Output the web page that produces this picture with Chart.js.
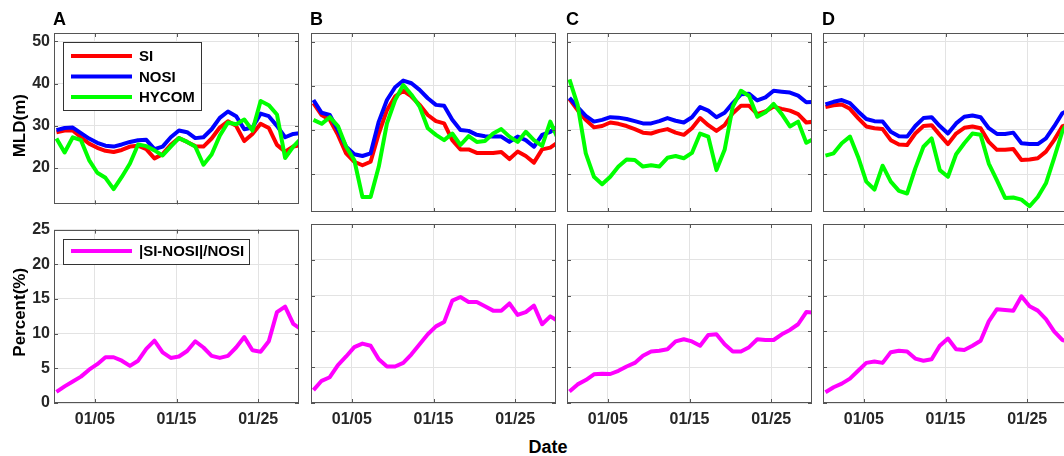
<!DOCTYPE html>
<html>
<head>
<meta charset="utf-8">
<script src="https://cdn.jsdelivr.net/npm/chart.js@4.4.1/dist/chart.umd.min.js"></script>
<style>
  html, body { margin: 0; padding: 0; background: #fff; }
  #fig { position: relative; width: 1064px; height: 456px; overflow: hidden; }
  #fig canvas { position: absolute; }
  #xlabel { position: absolute; left: 448px; width: 200px; top: 437px; line-height: 18px;
    text-align: center; font: bold 18px "Liberation Sans", Arial, sans-serif; color: #000; }
</style>
</head>
<body>
<div id="fig">
  <div id="xlabel">Date</div>
</div>
<script>
// days since 01/00
var days = [0.3,1.3,2.3,3.3,4.3,5.3,6.3,7.3,8.3,9.3,10.3,11.3,12.3,13.3,14.3,15.3,
            16.3,17.3,18.3,19.3,20.3,21.3,22.3,23.3,24.3,25.3,26.3,27.3,28.3,29.3,30.3];
var xTicks = [5, 15, 25];
var xTickLabels = ['01/05', '01/15', '01/25'];
var mldTicks = [20, 30, 40, 50];
var pctTicks = [0, 5, 10, 15, 20, 25];
var letters = ['A', 'B', 'C', 'D'];

var siA    = [28.5,28.9,28.9,27.3,25.8,24.8,24.1,23.8,24.3,25.1,25.3,24.5,22.3,23.3,25.5,27.1,26.2,25.2,25.1,27.0,29.6,31.1,30.0,26.4,28.1,30.5,29.5,25.5,23.9,25.1,25.5];
var nosiA  = [29.0,29.5,29.6,28.3,27.0,26.0,25.3,25.1,25.6,26.2,26.6,26.7,24.5,25.1,27.3,28.9,28.5,27.1,27.3,29.2,31.9,33.4,32.3,29.2,29.6,32.9,32.3,30.0,27.3,28.1,28.3];
var hycomA = [27.0,23.7,27.3,26.6,21.9,18.9,17.7,15.0,17.9,21.1,25.6,25.2,24.2,23.0,25.1,27.1,26.2,25.1,20.8,23.2,27.7,30.8,30.4,31.5,28.9,35.9,34.9,32.7,22.4,25.1,27.1];
var pctA   = [1.6,2.4,3.1,3.8,4.8,5.6,6.6,6.6,6.1,5.35,6.1,7.8,9.0,7.3,6.5,6.7,7.5,8.9,8.0,6.8,6.5,6.8,8.0,9.5,7.6,7.4,8.9,13.1,13.9,11.4,10.6];

var siB    = [36.1,33.4,32.3,28.9,24.7,22.8,22.0,22.8,29.2,34.5,37.6,38.9,37.6,35.7,33.4,32.0,31.5,27.7,25.6,25.6,24.8,24.8,24.8,25.0,23.4,25.1,24.1,22.6,25.6,26.0,27.3];
var nosiB  = [36.8,33.9,33.4,30.0,26.2,24.5,24.1,24.7,31.9,36.8,39.7,41.2,40.6,39.1,37.2,35.7,35.5,32.3,30.0,29.8,28.9,28.6,28.5,28.5,27.3,28.5,27.7,26.2,28.9,29.6,30.9];
var hycomB = [32.3,31.4,32.9,30.9,26.2,23.2,14.8,14.8,21.7,31.5,36.8,40.2,38.0,35.3,30.4,28.9,27.7,29.2,26.6,28.6,27.3,27.5,29.2,30.2,28.5,27.3,29.6,27.7,26.4,31.9,27.7];
var pctB   = [1.8,3.1,3.6,5.3,6.5,7.8,8.3,8.0,6.1,5.1,5.1,5.6,6.8,8.2,9.6,10.7,11.3,14.3,14.8,14.1,14.1,13.5,12.9,12.9,13.9,12.3,12.7,13.6,11.0,12.1,11.4];

var siC    = [37.0,34.5,32.3,30.6,30.9,31.7,31.4,30.9,30.2,29.4,29.2,29.8,30.2,29.4,28.9,30.4,32.7,31.1,29.8,31.1,33.8,35.5,35.5,33.6,34.2,35.3,34.8,34.4,33.6,31.7,31.9];
var nosiC  = [37.3,35.2,33.2,31.9,32.3,32.9,32.8,32.5,32.0,31.5,31.5,32.0,32.7,32.1,31.7,32.9,35.2,34.4,32.9,33.9,36.1,38.1,38.2,36.7,37.4,38.9,38.7,38.5,37.8,36.3,36.4];
var hycomC = [41.5,35.7,24.7,19.4,17.7,19.4,21.7,23.3,23.2,21.7,22.0,21.7,23.7,24.1,23.6,24.8,29.2,28.5,20.9,25.5,35.3,38.9,37.7,33.0,34.0,35.9,33.6,30.8,31.9,27.1,28.1];
var pctC   = [1.6,2.6,3.2,4.0,4.1,4.05,4.5,5.1,5.6,6.6,7.2,7.3,7.5,8.6,8.9,8.6,8.0,9.5,9.6,8.2,7.2,7.2,7.8,8.9,8.8,8.8,9.6,10.2,11.0,12.7,12.6];

var siD    = [35.2,35.6,35.8,34.8,32.7,30.8,30.4,30.2,27.7,26.7,26.6,29.2,30.9,31.1,28.9,26.8,29.2,30.5,30.8,30.4,27.3,25.5,25.5,25.7,23.2,23.3,23.6,25.1,27.7,30.8,31.5];
var nosiD  = [35.8,36.4,36.8,36.1,34.2,32.5,32.0,31.9,29.6,28.6,28.5,30.9,32.7,32.9,30.9,29.2,31.5,33.0,33.3,32.9,30.4,29.1,29.1,29.4,27.0,26.8,26.8,28.1,30.8,33.8,34.7];
var hycomD = [24.2,24.7,27.0,28.5,23.9,18.3,16.5,21.9,18.3,16.2,15.6,21.3,26.2,28.1,20.9,19.4,24.5,27.0,29.2,28.9,22.4,18.6,14.6,14.7,14.2,12.7,14.8,17.9,23.6,29.6,33.0];
var pctD   = [1.5,2.2,2.7,3.4,4.5,5.6,5.8,5.6,7.1,7.3,7.2,6.2,5.9,6.1,8.0,9.0,7.5,7.4,8.0,8.7,11.4,13.1,13.0,12.9,14.9,13.5,12.9,11.7,10.0,8.8,8.5];

var mldSets = [[siA, nosiA, hycomA], [siB, nosiB, hycomB], [siC, nosiC, hycomC], [siD, nosiD, hycomD]];
var pctSets = [pctA, pctB, pctC, pctD];

Chart.defaults.font.family = '"Liberation Sans", Arial, sans-serif';
Chart.defaults.font.weight = 'bold';
Chart.defaults.color = '#262626';

// axes box, inward ticks, panel letter, y label and legend (matlab look)
var frame = {
  id: 'frame',
  afterDatasetsDraw: function(chart, args, opts) {
    var ctx = chart.ctx, a = chart.chartArea;
    var xs = chart.scales.x, ys = chart.scales.y;
    ctx.save();
    ctx.strokeStyle = '#555';
    ctx.lineWidth = 1;
    ctx.beginPath();
    xs.ticks.forEach(function(t) {
      var px = Math.round(xs.getPixelForValue(t.value)) + 0.5;
      ctx.moveTo(px, a.bottom); ctx.lineTo(px, a.bottom - 4);
      ctx.moveTo(px, a.top); ctx.lineTo(px, a.top + 4);
    });
    ys.ticks.forEach(function(t) {
      var py = Math.round(ys.getPixelForValue(t.value)) + 0.5;
      ctx.moveTo(a.left, py); ctx.lineTo(a.left + 4, py);
      ctx.moveTo(a.right, py); ctx.lineTo(a.right - 4, py);
    });
    ctx.stroke();
    ctx.strokeRect(Math.round(a.left) + 0.5, Math.round(a.top) + 0.5, Math.round(a.width) - 1, Math.round(a.height) - 1);

    if (opts.letter) {
      ctx.fillStyle = '#000';
      ctx.font = 'bold 18px "Liberation Sans", Arial, sans-serif';
      ctx.textBaseline = 'alphabetic';
      ctx.fillText(opts.letter, a.left - 1, a.top - 8);
    }
    if (opts.ylabel) {
      ctx.fillStyle = '#000';
      ctx.font = 'bold 17px "Liberation Sans", Arial, sans-serif';
      ctx.textBaseline = 'middle';
      ctx.textAlign = 'center';
      ctx.translate(20, (a.top + a.bottom) / 2 + opts.ylabelShift);
      ctx.rotate(-Math.PI / 2);
      ctx.fillText(opts.ylabel, 0, 0);
      ctx.setTransform(1, 0, 0, 1, 0, 0);
      ctx.textAlign = 'left';
    }
    if (opts.legend) {
      var ds = chart.data.datasets;
      var bx = Math.round(a.left) + 9.5, by = Math.round(a.top) + 9.5;
      var bh = ds.length === 1 ? 25 : 68;
      ctx.fillStyle = '#fff';
      ctx.fillRect(bx, by, opts.legendWidth, bh);
      ctx.strokeStyle = '#333';
      ctx.lineWidth = 1;
      ctx.strokeRect(bx, by, opts.legendWidth, bh);
      ctx.font = 'bold 15px "Liberation Sans", Arial, sans-serif';
      ctx.textBaseline = 'middle';
      ds.forEach(function(d, i) {
        var yy = ds.length === 1 ? a.top + 21.5 : a.top + 23 + i * 20.5;
        ctx.strokeStyle = d.borderColor;
        ctx.lineWidth = 4;
        ctx.beginPath();
        ctx.moveTo(a.left + 17, yy); ctx.lineTo(a.left + 78, yy);
        ctx.stroke();
        ctx.fillStyle = '#000';
        ctx.fillText(d.label, a.left + 85, yy + 1);
      });
    }
    ctx.restore();
  }
};

var plotL = [54, 311, 567, 823];
var plotT = [33, 224];
var plotW = 245, plotH = 179;
var fig = document.getElementById('fig');

function line(label, color, arr, order) {
  return {
    label: label,
    data: days.map(function(d, i) { return { x: d, y: arr[i] }; }),
    borderColor: color,
    borderWidth: 4,
    pointRadius: 0,
    tension: 0,
    borderJoinStyle: 'round',
    clip: 0,
    order: order
  };
}

function makePanel(c, r) {
  var padL = c === 0 ? 54 : 6, padR = 6;
  var padT = r === 0 ? 30 : 8, padB = r === 0 ? 6 : 56;
  var cv = document.createElement('canvas');
  cv.width = padL + plotW + padR;
  cv.height = padT + plotH + padB;
  cv.style.left = (plotL[c] - padL) + 'px';
  cv.style.top = (plotT[r] - padT) + 'px';
  fig.appendChild(cv);

  var datasets;
  if (r === 0) {
    datasets = [
      line('SI', '#ff0000', mldSets[c][0], 2),
      line('NOSI', '#0000ff', mldSets[c][1], 1),
      line('HYCOM', '#00ff00', mldSets[c][2], 0)
    ];
  } else {
    datasets = [line('|SI-NOSI|/NOSI', '#ff00ff', pctSets[c], 0)];
  }
  var yTicks = r === 0 ? mldTicks : pctTicks;

  new Chart(cv, {
    type: 'line',
    data: { datasets: datasets },
    plugins: [frame],
    options: {
      responsive: false,
      animation: false,
      devicePixelRatio: 1,
      layout: { padding: { left: c === 0 ? 0 : padL, right: padR, top: padT, bottom: r === 0 ? padB : 0 } },
      plugins: {
        legend: { display: false },
        tooltip: { enabled: false },
        frame: {
          letter: r === 0 ? letters[c] : null,
          legend: c === 0,
          legendWidth: r === 0 ? 138 : 186,
          ylabel: c === 0 ? (r === 0 ? 'MLD(m)' : 'Percent(%)') : null,
          ylabelShift: r === 0 ? 7 : -4
        }
      },
      scales: {
        x: {
          type: 'linear',
          min: 0, max: 30,
          afterBuildTicks: function(s) { s.ticks = xTicks.map(function(v) { return { value: v }; }); },
          afterFit: function(s) { s.height = r === 0 ? 0 : padB; },
          grid: { color: '#e3e3e3', drawTicks: false },
          border: { display: false },
          ticks: {
            display: r === 1,
            padding: 7,
            maxRotation: 0,
            font: { size: 16, weight: 'bold' },
            callback: function(v) { return xTickLabels[xTicks.indexOf(v)]; }
          }
        },
        y: {
          type: 'linear',
          min: r === 0 ? 11.4 : 0,
          max: r === 0 ? 52 : 25,
          afterBuildTicks: function(s) { s.ticks = yTicks.map(function(v) { return { value: v }; }); },
          afterFit: function(s) { s.width = c === 0 ? padL : 0; },
          grid: { color: '#e3e3e3', drawTicks: false },
          border: { display: false },
          ticks: { display: c === 0, padding: 4, font: { size: 16, weight: 'bold' } }
        }
      }
    }
  });
}

for (var r = 0; r < 2; r++) {
  for (var c = 0; c < 4; c++) {
    makePanel(c, r);
  }
}
</script>
</body>
</html>
